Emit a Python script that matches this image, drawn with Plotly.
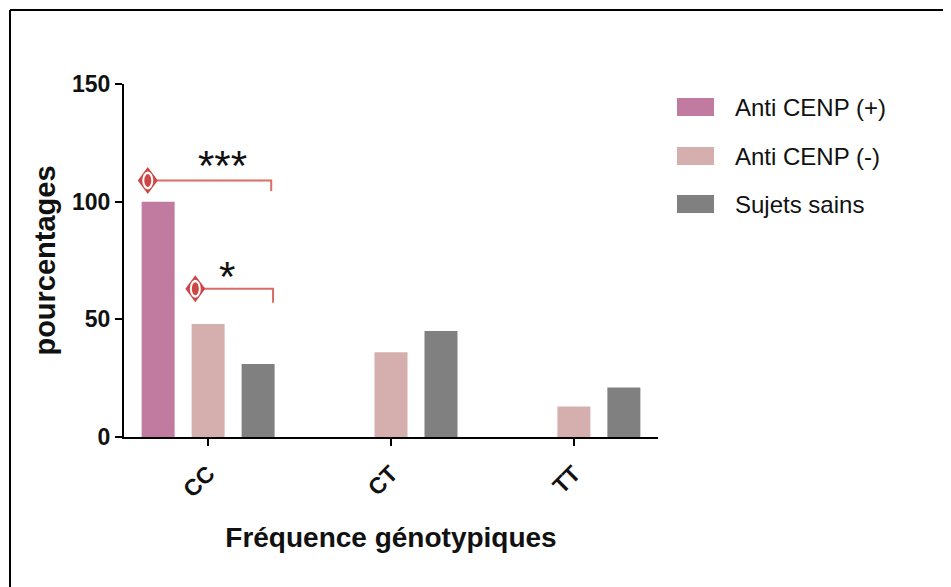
import plotly.graph_objects as go

# ---- data ----
categories = ["CC", "CT", "TT"]
series_names = ["Anti CENP (+)", "Anti CENP (-)", "Sujets sains"]
anti_pos = [100, 0, 0]
anti_neg = [48, 36, 13]
sains = [31, 45, 21]
series_values = [anti_pos, anti_neg, sains]
colors = ["#C27BA0", "#D5AEAE", "#808080"]

# significance brackets (category-axis units, data units)
sig_start = [-0.33, -0.07]
sig_end = [0.345, 0.355]
sig_y = [109, 63]
sig_drop = [104.5, 57]
sig_label = ["***", "*"]
sig_label_x = [0.077, 0.104]
sig_label_y = [104.5, 57.5]

FONT = "Liberation Sans, Arial, sans-serif"
OFF = 8  # browser body margin
W, H = 951, 587
ML, MT = 124 - OFF, 84 - OFF
PW, PH = 534, 353
MR, MB = W - ML - PW, H - MT - PH

xr = [-0.46, 2.46]
yr = [0, 150]
cat_per_px = (xr[1] - xr[0]) / PW
val_per_px = (yr[1] - yr[0]) / PH

fig = go.Figure()
for name, vals, col in zip(series_names, series_values, colors):
    fig.add_trace(go.Bar(x=categories, y=vals, name=name, marker_color=col,
                         marker_line_width=0, showlegend=False))

red_line = "#DB6B67"
red_mark = "#CD4747"
shapes = []
for x0, x1, y, yd in zip(sig_start, sig_end, sig_y, sig_drop):
    fig.add_trace(go.Scatter(x=[x0, x1, x1], y=[y, y, yd], mode="lines",
                             line=dict(color=red_line, width=2),
                             xaxis="x2", showlegend=False, hoverinfo="skip"))
    dx, dy = 10 * cat_per_px, 13.5 * val_per_px
    shapes.append(dict(type="path", xref="x2", yref="y",
                       path=f"M{x0 - dx},{y} L{x0},{y + dy} L{x0 + dx},{y} L{x0},{y - dy} Z",
                       fillcolor=red_mark, line=dict(width=0), layer="above"))
    # white oval ring and red core
    shapes.append(dict(type="circle", xref="x2", yref="y",
                       x0=x0 - 5.5 * cat_per_px, x1=x0 + 5.5 * cat_per_px,
                       y0=y - 9 * val_per_px, y1=y + 9 * val_per_px,
                       fillcolor="white", line=dict(width=0), layer="above"))
    shapes.append(dict(type="circle", xref="x2", yref="y",
                       x0=x0 - 3.5 * cat_per_px, x1=x0 + 3.5 * cat_per_px,
                       y0=y - 6.5 * val_per_px, y1=y + 6.5 * val_per_px,
                       fillcolor=red_mark, line=dict(width=0), layer="above"))

for lx, ly, lab in zip(sig_label_x, sig_label_y, sig_label):
    fig.add_annotation(x=lx, y=ly, xref="x2", yref="y", text=lab, showarrow=False,
                       yanchor="bottom",
                       font=dict(family=FONT, size=42, color="#111"))

def px_to_paper_x(px):
    return (px - OFF - ML) / PW
def px_to_paper_y(py):
    return 1 - (py - OFF - MT) / PH

# manual legend
leg_y = [107, 156, 204]
for name, col, yy in zip(series_names, colors, leg_y):
    shapes.append(dict(type="rect", xref="paper", yref="paper",
                       x0=px_to_paper_x(677), x1=px_to_paper_x(714),
                       y0=px_to_paper_y(yy - 9), y1=px_to_paper_y(yy + 9),
                       fillcolor=col, line=dict(width=0)))
    fig.add_annotation(x=px_to_paper_x(733), y=px_to_paper_y(yy), xref="paper", yref="paper",
                       text=name, showarrow=False, xanchor="left", yanchor="middle",
                       font=dict(family=FONT, size=24, color="#111"))

# frame lines (left and top)
shapes.append(dict(type="line", xref="paper", yref="paper",
                   x0=px_to_paper_x(10), x1=px_to_paper_x(10),
                   y0=px_to_paper_y(10), y1=px_to_paper_y(600),
                   line=dict(color="black", width=2)))
shapes.append(dict(type="line", xref="paper", yref="paper",
                   x0=px_to_paper_x(10), x1=px_to_paper_x(960),
                   y0=px_to_paper_y(10), y1=px_to_paper_y(10),
                   line=dict(color="black", width=2)))

fig.update_layout(
    width=W, height=H,
    margin=dict(l=ML, r=MR, t=MT, b=MB),
    paper_bgcolor="white", plot_bgcolor="white",
    barmode="group", bargap=0.18, bargroupgap=0.34,
    shapes=shapes,
    font=dict(family=FONT, color="#111"),
    xaxis=dict(range=xr, showline=True, linecolor="black", linewidth=2,
               ticks="outside", ticklen=7, tickwidth=2, tickcolor="black",
               tickangle=-45, showgrid=False, zeroline=False, ticklabelstandoff=5,
               tickfont=dict(family=FONT, size=23, color="#111", weight="bold"),
               title=dict(text="<b>Fréquence génotypiques</b>", standoff=26,
                          font=dict(family=FONT, size=28, color="#111"))),
    xaxis2=dict(range=xr, overlaying="x", visible=False),
    yaxis=dict(range=yr, tickvals=[0, 50, 100, 150], showline=True,
               linecolor="black", linewidth=2, ticks="outside", ticklen=7,
               tickwidth=2, tickcolor="black", showgrid=False, zeroline=False,
               tickfont=dict(family=FONT, size=23, color="#111", weight="bold"),
               title=dict(text="<b>pourcentages</b>", standoff=8,
                          font=dict(family=FONT, size=29, color="#111"))),
)

fig.write_html("out.html")
